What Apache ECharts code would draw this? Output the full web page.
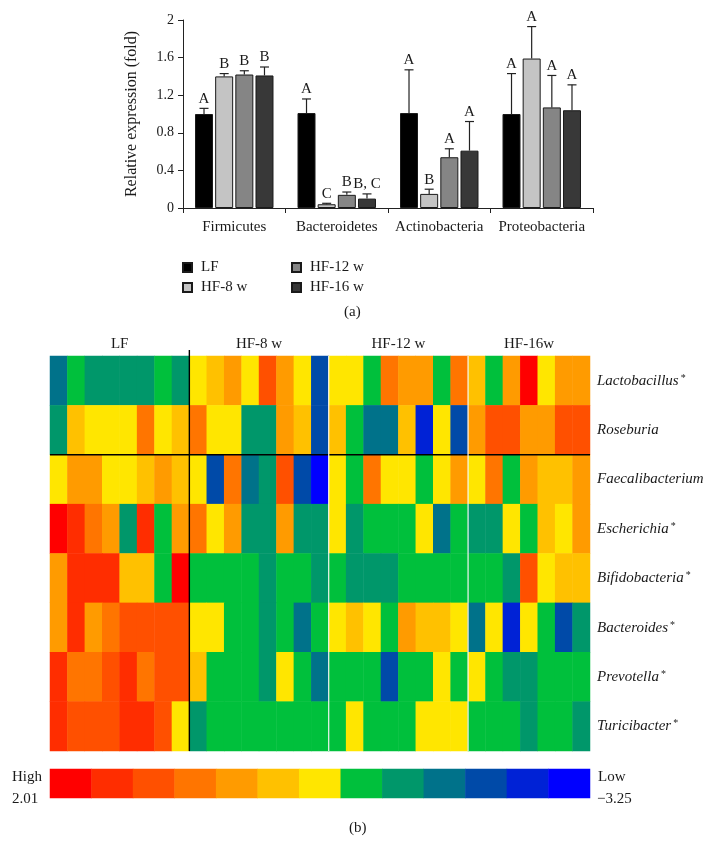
<!DOCTYPE html>
<html><head><meta charset="utf-8">
<script src="https://cdn.jsdelivr.net/npm/echarts@6/dist/echarts.min.js"></script>
<style>html,body{margin:0;padding:0;background:#fff}#c{width:717px;height:862px}</style>
</head><body><div id="c"></div>
<script>
// ---------- (a) bar chart data ----------
var phyla = ['Firmicutes', 'Bacteroidetes', 'Actinobacteria', 'Proteobacteria'];
var barGroups = ['LF', 'HF-8 w', 'HF-12 w', 'HF-16 w'];
var meanLF   = [1.00, 1.01, 1.01, 1.00];
var meanHF8  = [1.40, 0.04, 0.15, 1.59];
var meanHF12 = [1.42, 0.14, 0.54, 1.07];
var meanHF16 = [1.41, 0.10, 0.61, 1.04];
var errLF   = [0.06, 0.15, 0.46, 0.43];
var errHF8  = [0.03, 0.01, 0.05, 0.34];
var errHF12 = [0.04, 0.03, 0.09, 0.34];
var errHF16 = [0.09, 0.05, 0.31, 0.27];
var sigLF   = ['A', 'A', 'A', 'A'];
var sigHF8  = ['B', 'C', 'B', 'A'];
var sigHF12 = ['B', 'B', 'A', 'A'];
var sigHF16 = ['B', 'B, C', 'A', 'A'];
var yTickLabels = ['0', '0.4', '0.8', '1.2', '1.6', '2'];

// ---------- (b) heatmap data ----------
var heatGroups = ['LF', 'HF-8 w', 'HF-12 w', 'HF-16w'];
var heatGroupSizes = [8, 8, 8, 7];
var genera = ['Lactobacillus', 'Roseburia', 'Faecalibacterium', 'Escherichia', 'Bifidobacteria', 'Bacteroides', 'Prevotella', 'Turicibacter'];
var generaStar = [true, false, false, true, true, true, true, true];
var rowLactobacillus = [-1.83,-1.03,-1.43,-1.43,-1.43,-1.43,-1.03,-1.43, -0.62,-0.22,0.19,-0.62,1.00,0.19,-0.62,-2.24, -0.62,-0.62,-1.03,0.59,0.19,0.19,-1.03,0.59, -0.22,-1.03,0.19,1.81,-0.62,0.19,0.19];
var rowRoseburia = [-1.43,-0.22,-0.62,-0.62,-0.62,0.59,-0.62,-0.22, 0.59,-0.62,-0.62,-1.43,-1.43,0.19,-0.22,-2.24, -0.22,-1.03,-1.83,-1.83,-0.22,-2.64,-0.62,-2.24, 0.19,1.00,1.00,0.19,0.19,1.00,1.00];
var rowFaecalibacterium = [-0.62,0.19,0.19,-0.62,-0.62,-0.22,0.19,-0.22, -0.62,-2.24,0.59,-1.83,-1.43,1.00,-2.24,-3.05, -0.62,-1.03,0.59,-0.62,-0.62,-1.03,-0.62,0.19, -0.62,0.59,-1.03,0.19,-0.22,-0.22,0.19];
var rowEscherichia = [1.81,1.40,0.59,0.19,-1.43,1.40,-1.03,0.19, 0.59,-0.62,0.19,-1.43,-1.43,0.19,-1.43,-1.43, -0.62,-1.43,-1.03,-1.03,-1.03,-0.62,-1.83,-1.03, -1.43,-1.43,-0.62,-1.03,-0.22,-0.62,0.19];
var rowBifidobacteria = [0.19,1.40,1.40,1.40,-0.22,-0.22,-1.03,1.81, -1.03,-1.03,-1.03,-1.03,-1.43,-1.03,-1.03,-1.43, -1.03,-1.43,-1.43,-1.43,-1.03,-1.03,-1.03,-1.03, -1.03,-1.03,-1.43,1.00,-0.62,-0.22,-0.22];
var rowBacteroides = [0.19,1.40,0.19,0.59,1.00,1.00,1.00,1.00, -0.62,-0.62,-1.03,-1.03,-1.43,-1.03,-1.83,-1.03, -0.62,-0.22,-0.62,-1.03,0.19,-0.22,-0.22,-0.62, -1.83,-0.62,-2.64,-0.62,-1.03,-2.24,-1.43];
var rowPrevotella = [1.40,0.59,0.59,1.00,1.40,0.59,1.00,1.00, -0.22,-1.03,-1.03,-1.03,-1.43,-0.62,-1.03,-1.83, -1.03,-1.03,-1.03,-2.24,-1.03,-1.03,-0.62,-1.03, -0.62,-1.03,-1.43,-1.43,-1.03,-1.03,-1.03];
var rowTuricibacter = [1.40,1.00,1.00,1.00,1.40,1.40,1.00,-0.62, -1.43,-1.03,-1.03,-1.03,-1.03,-1.03,-1.03,-1.03, -1.03,-0.62,-1.03,-1.03,-1.03,-0.62,-0.62,-0.62, -1.03,-1.03,-1.03,-1.43,-1.03,-1.03,-1.43];
var scaleMax = 2.01, scaleMin = -3.25;
var scaleSteps = [1.81, 1.40, 1.00, 0.59, 0.19, -0.22, -0.62, -1.03, -1.43, -1.83, -2.24, -2.64, -3.05];

// ---------- styles ----------
var FONT = '"Liberation Serif", "DejaVu Serif", serif';
var TXT = '#1a1a1a';
var barColors = ['#000000', '#c4c4c4', '#858585', '#383838'];
var scaleColors = ['#FF0000','#FF2D00','#FF5000','#FF7500','#FF9B00','#FFC100','#FFE600','#00C03C','#00976A','#00728A','#004AA8','#0022D6','#0000FF'];
var BAR_W = 18, BAR_GAP = 0.12;

var means = [meanLF, meanHF8, meanHF12, meanHF16];
var errs = [errLF, errHF8, errHF12, errHF16];
var sigs = [sigLF, sigHF8, sigHF12, sigHF16];
var heatRows = [rowLactobacillus, rowRoseburia, rowFaecalibacterium, rowEscherichia, rowBifidobacteria, rowBacteroides, rowPrevotella, rowTuricibacter];

var heatCols = [];
var groupSpans = [];
heatGroupSizes.forEach(function (n, g) {
  var start = heatCols.length;
  for (var i = 0; i < n; i++) heatCols.push(heatGroups[g] + '-' + (i + 1));
  groupSpans.push([start, 0, heatCols.length - 1]);
});
var heatData = [];
heatRows.forEach(function (row, r) { row.forEach(function (v, c) { heatData.push([c, r, v]); }); });
var scaleData = scaleSteps.map(function (v, i) { return [i, 0, v]; });
var step = (scaleMax - scaleMin) / scaleColors.length;
var pieces = scaleColors.map(function (c, k) { return { min: scaleMax - (k + 1) * step, max: scaleMax - k * step, color: c }; });

var series = [];
barGroups.forEach(function (g, i) {
  series.push({
    type: 'bar', name: g, xAxisIndex: 0, yAxisIndex: 0, data: means[i],
    barWidth: BAR_W, barGap: (BAR_GAP * 100) + '%',
    itemStyle: { color: barColors[i], borderColor: '#1a1a1a', borderWidth: 1 },
    emphasis: { disabled: true }
  });
});
barGroups.forEach(function (g, i) {
  series.push({
    type: 'custom', xAxisIndex: 0, yAxisIndex: 0, z: 5,
    data: phyla.map(function (p, k) { return [k, means[i][k], errs[i][k]]; }),
    encode: { x: 0, y: 1 },
    renderItem: function (params, api) {
      var k = api.value(0), m = api.value(1), e = api.value(2);
      var off = (i - 1.5) * BAR_W * (1 + BAR_GAP);
      var p0 = api.coord([k, m]), p1 = api.coord([k, m + e]);
      var x = p0[0] + off;
      return { type: 'group', children: [
        { type: 'line', shape: { x1: x, y1: p0[1], x2: x, y2: p1[1] }, style: { stroke: '#222', lineWidth: 1.2 } },
        { type: 'line', shape: { x1: x - 4.5, y1: p1[1], x2: x + 4.5, y2: p1[1] }, style: { stroke: '#222', lineWidth: 1.2 } },
        { type: 'text', style: { text: sigs[i][params.dataIndex], x: x, y: p1[1] - 2, align: 'center', verticalAlign: 'bottom', fontFamily: FONT, fontSize: 15, fill: TXT } }
      ] };
    }
  });
});
series.push({
  type: 'heatmap', xAxisIndex: 1, yAxisIndex: 1, data: heatData,
  itemStyle: { borderWidth: 0 }, emphasis: { disabled: true }
});
series.push({
  type: 'custom', xAxisIndex: 1, yAxisIndex: 1, z: 10, data: groupSpans, encode: { x: 0, y: 1 },
  renderItem: function (params, api) {
    var s = api.value(0), e = api.value(2);
    var cs = params.coordSys;
    var w = api.size([1, 1])[0];
    var left = api.coord([s, 0])[0] - w / 2;
    var right = api.coord([e, 0])[0] + w / 2;
    var idx = params.dataIndex;
    var ch = [{ type: 'text', style: { text: heatGroups[idx], x: (left + right) / 2, y: cs.y - 12, align: 'center', verticalAlign: 'middle', fontFamily: FONT, fontSize: 15, fill: TXT } }];
    if (idx > 0) {
      ch.push({ type: 'line', shape: { x1: left, y1: idx === 1 ? cs.y - 6 : cs.y, x2: left, y2: cs.y + cs.height },
        style: { stroke: idx === 1 ? '#000' : '#f4f4f4', lineWidth: idx === 1 ? 1.4 : 1.2 } });
    } else {
      var yb = (api.coord([0, 1])[1] + api.coord([0, 2])[1]) / 2;
      ch.push({ type: 'line', shape: { x1: cs.x, y1: yb, x2: cs.x + cs.width, y2: yb }, style: { stroke: '#000', lineWidth: 1.4 } });
    }
    return { type: 'group', children: ch };
  }
});
series.push({
  type: 'heatmap', xAxisIndex: 2, yAxisIndex: 2, data: scaleData,
  itemStyle: { borderWidth: 0 }, emphasis: { disabled: true }
});

var option = {
  animation: false,
  backgroundColor: '#fff',
  textStyle: { fontFamily: FONT },
  grid: [
    { left: 183, top: 20, width: 410, height: 188 },
    { left: 50, top: 356, width: 540, height: 395 },
    { left: 50, top: 769, width: 540, height: 29 }
  ],
  xAxis: [
    { gridIndex: 0, type: 'category', data: phyla,
      axisLine: { lineStyle: { color: '#222', width: 1 } },
      axisTick: { show: true, length: 5, alignWithLabel: false, lineStyle: { color: '#222' } },
      axisLabel: { interval: 0, hideOverlap: false, fontFamily: FONT, fontSize: 15, color: TXT, margin: 12 } },
    { gridIndex: 1, type: 'category', data: heatCols, show: false },
    { gridIndex: 2, type: 'category', data: scaleSteps.map(function (v, i) { return 's' + i; }), show: false }
  ],
  yAxis: [
    { gridIndex: 0, type: 'value', min: 0, max: 2, interval: 0.4,
      name: 'Relative expression (fold)', nameLocation: 'middle', nameGap: 43,
      nameTextStyle: { fontFamily: FONT, fontSize: 16, color: TXT },
      axisLine: { show: true, lineStyle: { color: '#222', width: 1 } },
      axisTick: { show: true, length: 5, lineStyle: { color: '#222' } },
      splitLine: { show: false },
      axisLabel: { fontFamily: FONT, fontSize: 14, color: TXT, margin: 9,
        formatter: function (v, i) { return yTickLabels[i]; } } },
    { gridIndex: 1, type: 'category', data: genera, inverse: true, position: 'right',
      axisLine: { show: false }, axisTick: { show: false },
      axisLabel: { margin: 7,
        formatter: function (v) { var i = genera.indexOf(v); return '{it|' + v + '}' + (generaStar[i] ? '{st|*}' : ''); },
        rich: {
          it: { fontFamily: FONT, fontStyle: 'italic', fontSize: 15, color: TXT },
          st: { fontFamily: FONT, fontSize: 10, color: TXT, verticalAlign: 'top', padding: [0, 0, 0, 2] }
        } } },
    { gridIndex: 2, type: 'category', data: [''], show: false }
  ],
  visualMap: { type: 'piecewise', show: false, seriesIndex: [8, 10], dimension: 2, pieces: pieces },
  legend: [
    { data: ['LF', 'HF-8 w'], orient: 'vertical', left: 177, top: 255, itemWidth: 9, itemHeight: 9, itemGap: 5,
      icon: 'rect', selectedMode: false, textStyle: { fontFamily: FONT, fontSize: 15, color: TXT, padding: [0, 0, 0, 4] } },
    { data: ['HF-12 w', 'HF-16 w'], orient: 'vertical', left: 286, top: 255, itemWidth: 9, itemHeight: 9, itemGap: 5,
      icon: 'rect', selectedMode: false, textStyle: { fontFamily: FONT, fontSize: 15, color: TXT, padding: [0, 0, 0, 4] } }
  ],
  graphic: [
    { type: 'text', left: 344, top: 305, style: { text: '(a)', fontFamily: FONT, fontSize: 15, fill: TXT } },
    { type: 'text', left: 349, top: 821, style: { text: '(b)', fontFamily: FONT, fontSize: 15, fill: TXT } },
    { type: 'text', left: 12, top: 770, style: { text: 'High', fontFamily: FONT, fontSize: 15, fill: TXT } },
    { type: 'text', left: 12, top: 792, style: { text: '2.01', fontFamily: FONT, fontSize: 15, fill: TXT } },
    { type: 'text', left: 598, top: 770, style: { text: 'Low', fontFamily: FONT, fontSize: 15, fill: TXT } },
    { type: 'text', left: 597, top: 792, style: { text: '\u22123.25', fontFamily: FONT, fontSize: 15, fill: TXT } }
  ],
  series: series
};
var chart = echarts.init(document.getElementById('c'), null, { renderer: 'canvas' });
chart.setOption(option);
</script></body></html>
